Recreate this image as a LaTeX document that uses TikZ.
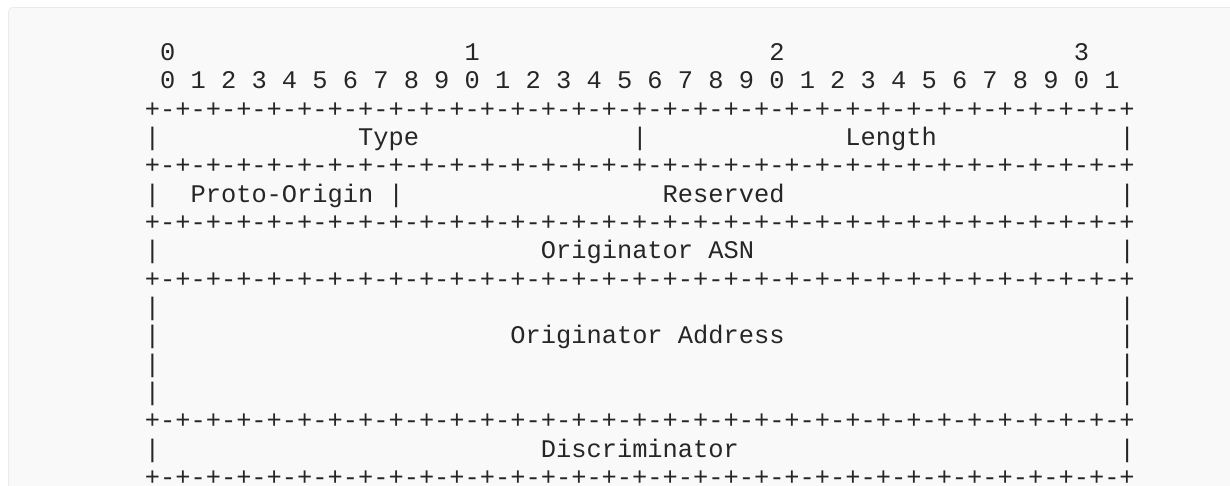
\documentclass[tikz,border=0pt]{standalone}
\usepackage{fontspec}
\usepackage{tikz}
\newfontfamily\pktmono{Liberation Mono}
\definecolor{boxfill}{HTML}{F9F9F9}
\definecolor{boxline}{HTML}{EBEBEB}
\definecolor{ink}{HTML}{262626}
\newcommand\ruleq{+-+-+-+-}
\newcommand\bitrule{\ruleq\ruleq\ruleq\ruleq\ruleq\ruleq\ruleq\ruleq+}
\tikzset{
  ascii/.style={anchor=base west,inner sep=0pt,outer sep=0pt,text=ink,
    font=\pktmono\fontsize{12.69pt}{14pt}\selectfont},
}

\begin{document}
\begin{tikzpicture}[x=0.5pt,y=-0.5pt]
	\useasboundingbox (0,0) rectangle (1230,486);
	\draw[boxline,fill=boxfill,rounded corners=2pt] (8.5,7.5) rectangle (1240,500);

	\begin{scope}[shift={(144.9,60.3)},x=7.615pt,y=-14.18pt]
	% bit numbers
	\node[ascii] (ten0) at (1, 0)     {0};
	\node[ascii] (ten1) at (21, 0)    {1};
	\node[ascii] (ten2) at (41, 0)    {2};
	\node[ascii] (ten3) at (61, 0)    {3};
	\node[ascii] (bits) at (1, 1)     {0 1 2 3 4 5 6 7 8 9 0 1 2 3 4 5 6 7 8 9 0 1 2 3 4 5 6 7 8 9 0 1};

	% rule lines
	\node[ascii] (rule1) at (0, 2)    {\bitrule};
	\node[ascii] (rule2) at (0, 4)    {\bitrule};
	\node[ascii] (rule3) at (0, 6)    {\bitrule};
	\node[ascii] (rule4) at (0, 8)    {\bitrule};
	\node[ascii] (rule5) at (0, 13)   {\bitrule};
	\node[ascii] (rule6) at (0, 15)   {\bitrule};

	% Type / Length
	\node[ascii] (barTl) at (0, 3)    {|};
	\node[ascii] (type)  at (14, 3)   {Type};
	\node[ascii] (barTm) at (32, 3)   {|};
	\node[ascii] (len)   at (46, 3)   {Length};
	\node[ascii] (barTr) at (64, 3)   {|};

	% Proto-Origin / Reserved
	\node[ascii] (barPl) at (0, 5)    {|};
	\node[ascii] (proto) at (3, 5)    {Proto-Origin};
	\node[ascii] (barPm) at (16, 5)   {|};
	\node[ascii] (resv)  at (34, 5)   {Reserved};
	\node[ascii] (barPr) at (64, 5)   {|};

	% Originator ASN
	\node[ascii] (barAl) at (0, 7)    {|};
	\node[ascii] (asn)   at (26, 7)   {Originator ASN};
	\node[ascii] (barAr) at (64, 7)   {|};

	% Originator Address
	\node[ascii] (barB1l) at (0, 9)   {|};
	\node[ascii] (barB1r) at (64, 9)  {|};
	\node[ascii] (barB2l) at (0, 10)  {|};
	\node[ascii] (addr)   at (24, 10) {Originator Address};
	\node[ascii] (barB2r) at (64, 10) {|};
	\node[ascii] (barB3l) at (0, 11)  {|};
	\node[ascii] (barB3r) at (64, 11) {|};
	\node[ascii] (barB4l) at (0, 12)  {|};
	\node[ascii] (barB4r) at (64, 12) {|};

	% Discriminator
	\node[ascii] (barDl) at (0, 14)   {|};
	\node[ascii] (disc)  at (26, 14)  {Discriminator};
	\node[ascii] (barDr) at (64, 14)  {|};
	\end{scope}
\end{tikzpicture}
\end{document}
